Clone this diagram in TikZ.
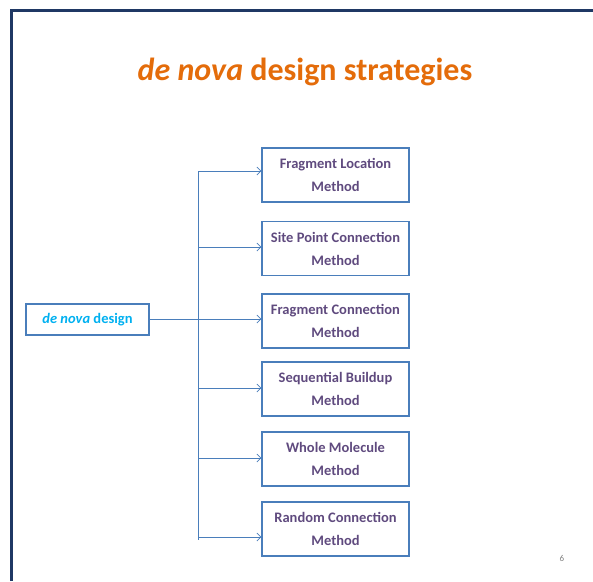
\documentclass[tikz,border=0pt]{standalone}
\usepackage{fontspec}
\setmainfont{Carlito}
\usetikzlibrary{arrows.meta}

\definecolor{framenavy}{HTML}{1F3864}
\definecolor{titleorange}{HTML}{E46C0A}
\definecolor{boxblue}{HTML}{4A7EBB}
\definecolor{methodpurple}{HTML}{5F4A7E}
\definecolor{designcyan}{HTML}{00B0F0}

\begin{document}
\begin{tikzpicture}[x=1pt, y=-1pt,
    methodbox/.style={draw=boxblue, line width=1.1pt, minimum width=147pt, minimum height=54pt,
      align=center, text=methodpurple, font=\bfseries\fontsize{14.5}{23}\selectfont},
    designbox/.style={draw=boxblue, line width=1.4pt, minimum width=123pt, minimum height=31pt,
      text=designcyan, font=\bfseries\fontsize{14.5}{17}\selectfont},
    branch/.style={boxblue, line width=.7pt},
    tip/.style={branch, -{Straight Barb[length=4pt, width=8pt]}}]
    \useasboundingbox (0, 0) rectangle (593, 581);

    % slide frame
    \draw[framenavy, line width=3pt] (11, 581) -- (11, 10) -- (593, 10);

    \node[anchor=base, text=titleorange, font=\bfseries\fontsize{32}{38}\selectfont] (title) at (305, 80) {\textit{de nova} design strategies};

    \node[designbox] (denova) at (87.5, 319.5) {\textit{de nova} design};

    \node[methodbox] (flm) at (335.5, 175) {Fragment Location\\Method};
    \node[methodbox] (spc) at (335.5, 248.5) {Site Point Connection\\Method};
    \node[methodbox] (fcm) at (335.5, 321) {Fragment Connection\\Method};
    \node[methodbox] (sbm) at (335.5, 389) {Sequential Buildup\\Method};
    \node[methodbox] (wmm) at (335.5, 459) {Whole Molecule\\Method};
    \node[methodbox] (rcm) at (335.5, 529) {Random Connection\\Method};

    % trunk
    \coordinate (t1) at (198, 171);
    \coordinate (t2) at (198, 247);
    \coordinate (t3) at (198, 319);
    \coordinate (t4) at (198, 388);
    \coordinate (t5) at (198, 458);
    \coordinate (t6) at (198, 537);
    \coordinate (tend) at (198, 540);
    \draw[branch] (t1) -- (tend);
    \draw[branch] (denova.east |- t3) -- (t3);

    \draw[tip] (t1) -- (t1 -| flm.west);
    \draw[tip] (t2) -- (t2 -| spc.west);
    \draw[tip] (t3) -- (t3 -| fcm.west);
    \draw[tip] (t4) -- (t4 -| sbm.west);
    \draw[tip] (t5) -- (t5 -| wmm.west);
    \draw[tip] (t6) -- (t6 -| rcm.west);

    \node[text=gray, font=\fontsize{9}{11}\selectfont] (page) at (562, 558) {6};
\end{tikzpicture}
\end{document}
